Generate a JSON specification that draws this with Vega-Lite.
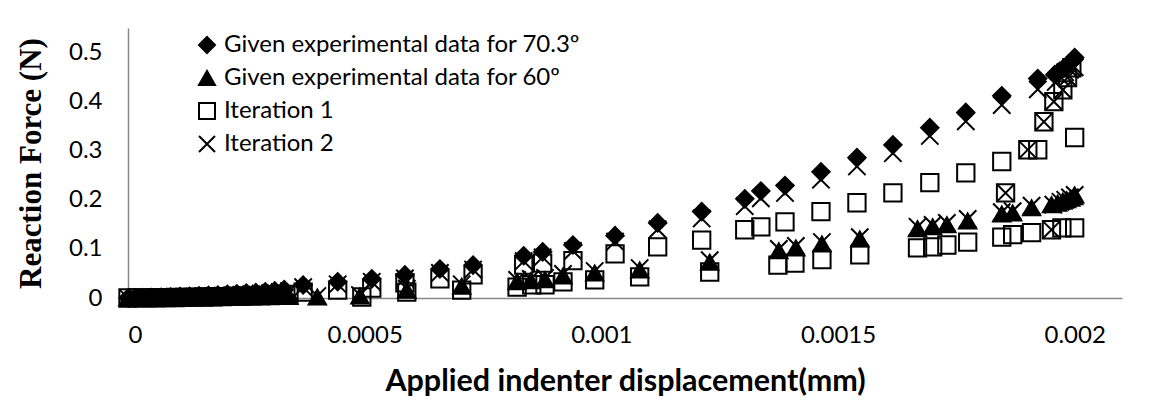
{
  "$schema": "https://vega.github.io/schema/vega-lite/v6.json",
  "width": 994,
  "height": 270,
  "autosize": {"type": "none"},
  "padding": {"left": 128, "top": 28, "right": 50, "bottom": 113},
  "background": "white",
  "config": {"view": {"stroke": null}, "font": "Lato"},
  "data": {
    "values": [
      {"s": "D70", "x": 0, "y": 0}, {"s": "D70", "x": 0.000015, "y": 0.0002}, {"s": "D70", "x": 0.00003, "y": 0.0005}, {"s": "D70", "x": 0.00005, "y": 0.001}, {"s": "D70", "x": 0.00007, "y": 0.0015}, {"s": "D70", "x": 0.00009, "y": 0.002}, {"s": "D70", "x": 0.00011, "y": 0.0027}, {"s": "D70", "x": 0.00013, "y": 0.0035}, {"s": "D70", "x": 0.00015, "y": 0.0043}, {"s": "D70", "x": 0.00017, "y": 0.0052}, {"s": "D70", "x": 0.00019, "y": 0.0062}, {"s": "D70", "x": 0.00021, "y": 0.0073}, {"s": "D70", "x": 0.00023, "y": 0.0085}, {"s": "D70", "x": 0.00025, "y": 0.0098}, {"s": "D70", "x": 0.00027, "y": 0.011}, {"s": "D70", "x": 0.00029, "y": 0.0125}, {"s": "D70", "x": 0.00031, "y": 0.0145}, {"s": "D70", "x": 0.00033, "y": 0.017},
      {"s": "D70", "x": 0.00037, "y": 0.0265}, {"s": "D70", "x": 0.000443, "y": 0.033}, {"s": "D70", "x": 0.000515, "y": 0.039}, {"s": "D70", "x": 0.000585, "y": 0.047}, {"s": "D70", "x": 0.000659, "y": 0.059}, {"s": "D70", "x": 0.000729, "y": 0.067}, {"s": "D70", "x": 0.000836, "y": 0.086}, {"s": "D70", "x": 0.000876, "y": 0.094}, {"s": "D70", "x": 0.00094, "y": 0.108}, {"s": "D70", "x": 0.001029, "y": 0.127}, {"s": "D70", "x": 0.001119, "y": 0.153}, {"s": "D70", "x": 0.001212, "y": 0.176}, {"s": "D70", "x": 0.001303, "y": 0.202}, {"s": "D70", "x": 0.001337, "y": 0.218}, {"s": "D70", "x": 0.001388, "y": 0.229}, {"s": "D70", "x": 0.001464, "y": 0.257}, {"s": "D70", "x": 0.00154, "y": 0.286}, {"s": "D70", "x": 0.001616, "y": 0.312}, {"s": "D70", "x": 0.001694, "y": 0.347}, {"s": "D70", "x": 0.00177, "y": 0.378}, {"s": "D70", "x": 0.001846, "y": 0.412}, {"s": "D70", "x": 0.001922, "y": 0.447}, {"s": "D70", "x": 0.001958, "y": 0.455}, {"s": "D70", "x": 0.001968, "y": 0.462}, {"s": "D70", "x": 0.001977, "y": 0.468}, {"s": "D70", "x": 0.001985, "y": 0.474}, {"s": "D70", "x": 0.001992, "y": 0.48}, {"s": "D70", "x": 0.001998, "y": 0.486}, {"s": "D70", "x": 0.002, "y": 0.49},

      {"s": "T60", "x": 0, "y": 0}, {"s": "T60", "x": 0.00002, "y": 0.0001}, {"s": "T60", "x": 0.00004, "y": 0.0002}, {"s": "T60", "x": 0.00006, "y": 0.0003}, {"s": "T60", "x": 0.00008, "y": 0.0005}, {"s": "T60", "x": 0.0001, "y": 0.0007}, {"s": "T60", "x": 0.00012, "y": 0.0009}, {"s": "T60", "x": 0.00014, "y": 0.0011}, {"s": "T60", "x": 0.00016, "y": 0.0013}, {"s": "T60", "x": 0.00018, "y": 0.0015}, {"s": "T60", "x": 0.0002, "y": 0.0017}, {"s": "T60", "x": 0.00022, "y": 0.0019}, {"s": "T60", "x": 0.00024, "y": 0.0021}, {"s": "T60", "x": 0.00026, "y": 0.0023}, {"s": "T60", "x": 0.00028, "y": 0.0025}, {"s": "T60", "x": 0.0003, "y": 0.0027}, {"s": "T60", "x": 0.00032, "y": 0.003}, {"s": "T60", "x": 0.00034, "y": 0.0033},
      {"s": "T60", "x": 0.0004, "y": 0.002}, {"s": "T60", "x": 0.00049, "y": 0.004}, {"s": "T60", "x": 0.000589, "y": 0.016}, {"s": "T60", "x": 0.000705, "y": 0.024}, {"s": "T60", "x": 0.000822, "y": 0.033}, {"s": "T60", "x": 0.000851, "y": 0.035}, {"s": "T60", "x": 0.000881, "y": 0.037}, {"s": "T60", "x": 0.000919, "y": 0.045}, {"s": "T60", "x": 0.000986, "y": 0.051}, {"s": "T60", "x": 0.001081, "y": 0.057}, {"s": "T60", "x": 0.001229, "y": 0.073}, {"s": "T60", "x": 0.001375, "y": 0.096}, {"s": "T60", "x": 0.001411, "y": 0.102}, {"s": "T60", "x": 0.001466, "y": 0.11}, {"s": "T60", "x": 0.001546, "y": 0.12}, {"s": "T60", "x": 0.001668, "y": 0.141}, {"s": "T60", "x": 0.0017, "y": 0.145}, {"s": "T60", "x": 0.00173, "y": 0.149}, {"s": "T60", "x": 0.001774, "y": 0.157}, {"s": "T60", "x": 0.001846, "y": 0.171}, {"s": "T60", "x": 0.001869, "y": 0.173}, {"s": "T60", "x": 0.001909, "y": 0.184}, {"s": "T60", "x": 0.001951, "y": 0.19}, {"s": "T60", "x": 0.001964, "y": 0.193}, {"s": "T60", "x": 0.001975, "y": 0.197}, {"s": "T60", "x": 0.001983, "y": 0.2}, {"s": "T60", "x": 0.001992, "y": 0.203}, {"s": "T60", "x": 0.001998, "y": 0.206}, {"s": "T60", "x": 0.002, "y": 0.21},

      {"s": "I1", "x": 0, "y": 0}, {"s": "I1", "x": 0.00002, "y": 0.0001}, {"s": "I1", "x": 0.00004, "y": 0.0003}, {"s": "I1", "x": 0.00006, "y": 0.0005}, {"s": "I1", "x": 0.00008, "y": 0.0008}, {"s": "I1", "x": 0.0001, "y": 0.001}, {"s": "I1", "x": 0.00012, "y": 0.0013}, {"s": "I1", "x": 0.00014, "y": 0.0017}, {"s": "I1", "x": 0.00016, "y": 0.002}, {"s": "I1", "x": 0.00018, "y": 0.0024}, {"s": "I1", "x": 0.0002, "y": 0.0028}, {"s": "I1", "x": 0.00022, "y": 0.0033}, {"s": "I1", "x": 0.00024, "y": 0.0038}, {"s": "I1", "x": 0.00026, "y": 0.0044}, {"s": "I1", "x": 0.00028, "y": 0.005}, {"s": "I1", "x": 0.0003, "y": 0.0057}, {"s": "I1", "x": 0.00032, "y": 0.0065}, {"s": "I1", "x": 0.00034, "y": 0.0075},
      {"s": "I1", "x": 0.00037, "y": 0.012}, {"s": "I1", "x": 0.000443, "y": 0.016}, {"s": "I1", "x": 0.000515, "y": 0.02}, {"s": "I1", "x": 0.000585, "y": 0.031}, {"s": "I1", "x": 0.000659, "y": 0.039}, {"s": "I1", "x": 0.000729, "y": 0.047}, {"s": "I1", "x": 0.000836, "y": 0.067}, {"s": "I1", "x": 0.000876, "y": 0.071}, {"s": "I1", "x": 0.00094, "y": 0.076}, {"s": "I1", "x": 0.001029, "y": 0.09}, {"s": "I1", "x": 0.001119, "y": 0.104}, {"s": "I1", "x": 0.001212, "y": 0.118}, {"s": "I1", "x": 0.001303, "y": 0.139}, {"s": "I1", "x": 0.001337, "y": 0.145}, {"s": "I1", "x": 0.001388, "y": 0.155}, {"s": "I1", "x": 0.001464, "y": 0.176}, {"s": "I1", "x": 0.00154, "y": 0.194}, {"s": "I1", "x": 0.001616, "y": 0.214}, {"s": "I1", "x": 0.001694, "y": 0.235}, {"s": "I1", "x": 0.00177, "y": 0.255}, {"s": "I1", "x": 0.001846, "y": 0.278}, {"s": "I1", "x": 0.001922, "y": 0.302}, {"s": "I1", "x": 0.002, "y": 0.327},
      {"s": "I1", "x": 0.001854, "y": 0.214}, {"s": "I1", "x": 0.001901, "y": 0.302}, {"s": "I1", "x": 0.001935, "y": 0.359}, {"s": "I1", "x": 0.001956, "y": 0.4}, {"s": "I1", "x": 0.001975, "y": 0.424}, {"s": "I1", "x": 0.001985, "y": 0.449}, {"s": "I1", "x": 0.001994, "y": 0.469},
      {"s": "I1", "x": 0.000494, "y": 0.002}, {"s": "I1", "x": 0.000589, "y": 0.012}, {"s": "I1", "x": 0.000705, "y": 0.016}, {"s": "I1", "x": 0.000822, "y": 0.022}, {"s": "I1", "x": 0.000853, "y": 0.027}, {"s": "I1", "x": 0.000881, "y": 0.027}, {"s": "I1", "x": 0.000919, "y": 0.033}, {"s": "I1", "x": 0.000986, "y": 0.037}, {"s": "I1", "x": 0.001081, "y": 0.043}, {"s": "I1", "x": 0.001229, "y": 0.053}, {"s": "I1", "x": 0.001373, "y": 0.067}, {"s": "I1", "x": 0.001409, "y": 0.071}, {"s": "I1", "x": 0.001466, "y": 0.078}, {"s": "I1", "x": 0.001546, "y": 0.088}, {"s": "I1", "x": 0.001668, "y": 0.102}, {"s": "I1", "x": 0.0017, "y": 0.104}, {"s": "I1", "x": 0.00173, "y": 0.108}, {"s": "I1", "x": 0.001774, "y": 0.114}, {"s": "I1", "x": 0.001846, "y": 0.124}, {"s": "I1", "x": 0.001869, "y": 0.129}, {"s": "I1", "x": 0.001909, "y": 0.133}, {"s": "I1", "x": 0.001951, "y": 0.139}, {"s": "I1", "x": 0.001973, "y": 0.143}, {"s": "I1", "x": 0.002, "y": 0.143},

      {"s": "I2", "x": 0, "y": 0}, {"s": "I2", "x": 0.00002, "y": 0.0002}, {"s": "I2", "x": 0.00004, "y": 0.0004}, {"s": "I2", "x": 0.00006, "y": 0.0007}, {"s": "I2", "x": 0.00008, "y": 0.001}, {"s": "I2", "x": 0.0001, "y": 0.0014}, {"s": "I2", "x": 0.00012, "y": 0.0019}, {"s": "I2", "x": 0.00014, "y": 0.0025}, {"s": "I2", "x": 0.00016, "y": 0.0031}, {"s": "I2", "x": 0.00018, "y": 0.0038}, {"s": "I2", "x": 0.0002, "y": 0.0046}, {"s": "I2", "x": 0.00022, "y": 0.0055}, {"s": "I2", "x": 0.00024, "y": 0.0065}, {"s": "I2", "x": 0.00026, "y": 0.0076}, {"s": "I2", "x": 0.00028, "y": 0.0088}, {"s": "I2", "x": 0.0003, "y": 0.01}, {"s": "I2", "x": 0.00032, "y": 0.012}, {"s": "I2", "x": 0.00034, "y": 0.014},
      {"s": "I2", "x": 0.00037, "y": 0.022}, {"s": "I2", "x": 0.000443, "y": 0.028}, {"s": "I2", "x": 0.000515, "y": 0.033}, {"s": "I2", "x": 0.000585, "y": 0.04}, {"s": "I2", "x": 0.000659, "y": 0.051}, {"s": "I2", "x": 0.000729, "y": 0.058}, {"s": "I2", "x": 0.000836, "y": 0.075}, {"s": "I2", "x": 0.000876, "y": 0.083}, {"s": "I2", "x": 0.00094, "y": 0.096}, {"s": "I2", "x": 0.001029, "y": 0.115}, {"s": "I2", "x": 0.001119, "y": 0.14}, {"s": "I2", "x": 0.001212, "y": 0.162}, {"s": "I2", "x": 0.001303, "y": 0.187}, {"s": "I2", "x": 0.001337, "y": 0.203}, {"s": "I2", "x": 0.001388, "y": 0.214}, {"s": "I2", "x": 0.001464, "y": 0.241}, {"s": "I2", "x": 0.00154, "y": 0.268}, {"s": "I2", "x": 0.001616, "y": 0.295}, {"s": "I2", "x": 0.001694, "y": 0.33}, {"s": "I2", "x": 0.00177, "y": 0.36}, {"s": "I2", "x": 0.001846, "y": 0.393}, {"s": "I2", "x": 0.001922, "y": 0.425},
      {"s": "I2", "x": 0.001854, "y": 0.214}, {"s": "I2", "x": 0.001901, "y": 0.302}, {"s": "I2", "x": 0.001935, "y": 0.359}, {"s": "I2", "x": 0.001956, "y": 0.4}, {"s": "I2", "x": 0.001975, "y": 0.424}, {"s": "I2", "x": 0.001985, "y": 0.449}, {"s": "I2", "x": 0.001994, "y": 0.469},
      {"s": "I2", "x": 0.00196, "y": 0.44}, {"s": "I2", "x": 0.00197, "y": 0.45}, {"s": "I2", "x": 0.00198, "y": 0.46}, {"s": "I2", "x": 0.00199, "y": 0.465}, {"s": "I2", "x": 0.002, "y": 0.47},
      {"s": "I2", "x": 0.0004, "y": 0.004}, {"s": "I2", "x": 0.00049, "y": 0.006}, {"s": "I2", "x": 0.000589, "y": 0.019}, {"s": "I2", "x": 0.000705, "y": 0.028}, {"s": "I2", "x": 0.000822, "y": 0.037}, {"s": "I2", "x": 0.000851, "y": 0.039}, {"s": "I2", "x": 0.000881, "y": 0.041}, {"s": "I2", "x": 0.000919, "y": 0.049}, {"s": "I2", "x": 0.000986, "y": 0.055}, {"s": "I2", "x": 0.001081, "y": 0.061}, {"s": "I2", "x": 0.001229, "y": 0.077}, {"s": "I2", "x": 0.001375, "y": 0.1}, {"s": "I2", "x": 0.001411, "y": 0.106}, {"s": "I2", "x": 0.001466, "y": 0.114}, {"s": "I2", "x": 0.001546, "y": 0.124}, {"s": "I2", "x": 0.001668, "y": 0.145}, {"s": "I2", "x": 0.0017, "y": 0.149}, {"s": "I2", "x": 0.00173, "y": 0.153}, {"s": "I2", "x": 0.001774, "y": 0.161}, {"s": "I2", "x": 0.001846, "y": 0.175}, {"s": "I2", "x": 0.001869, "y": 0.177}, {"s": "I2", "x": 0.001909, "y": 0.188}, {"s": "I2", "x": 0.001951, "y": 0.139}, {"s": "I2", "x": 0.001955, "y": 0.19}, {"s": "I2", "x": 0.00197, "y": 0.196}, {"s": "I2", "x": 0.00198, "y": 0.2}, {"s": "I2", "x": 0.00199, "y": 0.205}, {"s": "I2", "x": 0.002, "y": 0.21}
    ]
  },
  "mark": {"type": "point", "strokeWidth": 2, "size": 300, "opacity": 1},
  "encoding": {
    "x": {
      "field": "x", "type": "quantitative",
      "scale": {"domain": [0, 0.0021], "nice": false, "zero": false},
      "axis": {
        "title": "Applied indenter displacement(mm)",
        "values": [0, 0.0005, 0.001, 0.0015, 0.002],
        "format": "~g",
        "grid": false, "ticks": false, "tickSize": 0,
        "domainColor": "#888888", "domainWidth": 1.5,
        "labelFont": "Lato", "labelFontSize": 24, "labelColor": "black",
        "labelBaseline": "alphabetic", "labelPadding": 44,
        "titleFont": "Lato", "titleFontWeight": "bold", "titleFontSize": 30.5, "titleColor": "black",
        "titleBaseline": "alphabetic", "titleX": 497, "titleY": 92
      }
    },
    "y": {
      "field": "y", "type": "quantitative",
      "scale": {"domain": [0, 0.55], "nice": false},
      "axis": {
        "title": "Reaction Force (N)",
        "values": [0, 0.1, 0.2, 0.3, 0.4, 0.5],
        "format": "~g",
        "grid": false, "ticks": false, "tickSize": 0,
        "domainColor": "#888888", "domainWidth": 1.5,
        "labelFont": "Lato", "labelFontSize": 24, "labelColor": "black",
        "labelPadding": 26,
        "titleFont": "Liberation Serif", "titleFontWeight": "bold", "titleFontSize": 31, "titleColor": "black",
        "titleBaseline": "alphabetic", "titleX": -88, "titleY": 135, "titleAngle": -90
      }
    },
    "shape": {
      "field": "s", "type": "nominal",
      "scale": {"domain": ["D70", "T60", "I1", "I2"], "range": ["diamond", "triangle-up", "square", "M-1,-1L1,1M1,-1L-1,1"]},
      "legend": {
        "title": null, "orient": "none", "legendX": 67, "legendY": 5, "padding": 0,
        "labelExpr": "{'D70': 'Given experimental data for 70.3º', 'T60': 'Given experimental data for 60º', 'I1': 'Iteration 1', 'I2': 'Iteration 2'}[datum.label]",
        "labelFont": "Lato", "labelFontSize": 24, "labelColor": "black", "labelOffset": 5, "labelLimit": 0,
        "symbolSize": 256, "symbolStrokeColor": "black", "symbolStrokeWidth": 2, "rowPadding": 9
      }
    },
    "fill": {
      "field": "s", "type": "nominal",
      "scale": {"domain": ["D70", "T60", "I1", "I2"], "range": ["black", "black", "transparent", "transparent"]},
      "legend": {
        "title": null, "orient": "none", "legendX": 67, "legendY": 5, "padding": 0,
        "labelExpr": "{'D70': 'Given experimental data for 70.3º', 'T60': 'Given experimental data for 60º', 'I1': 'Iteration 1', 'I2': 'Iteration 2'}[datum.label]",
        "labelFont": "Lato", "labelFontSize": 24, "labelColor": "black", "labelOffset": 5, "labelLimit": 0,
        "symbolSize": 256, "symbolStrokeColor": "black", "symbolStrokeWidth": 2, "rowPadding": 9
      }
    },
    "stroke": {
      "field": "s", "type": "nominal",
      "scale": {"domain": ["D70", "T60", "I1", "I2"], "range": ["black", "black", "black", "black"]},
      "legend": {
        "title": null, "orient": "none", "legendX": 67, "legendY": 5, "padding": 0,
        "labelExpr": "{'D70': 'Given experimental data for 70.3º', 'T60': 'Given experimental data for 60º', 'I1': 'Iteration 1', 'I2': 'Iteration 2'}[datum.label]",
        "labelFont": "Lato", "labelFontSize": 24, "labelColor": "black", "labelOffset": 5, "labelLimit": 0,
        "symbolSize": 256, "symbolStrokeColor": "black", "symbolStrokeWidth": 2, "rowPadding": 9
      }
    }
  }
}
